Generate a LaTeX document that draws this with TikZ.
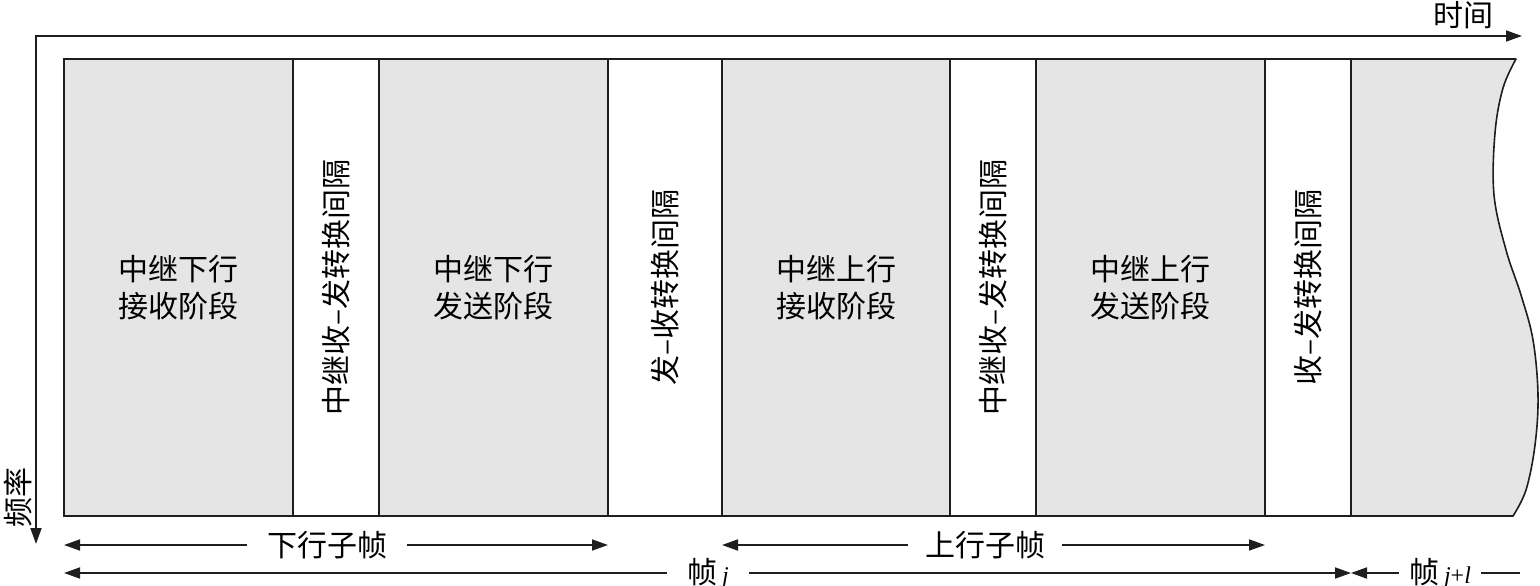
\documentclass[tikz,border=0pt]{standalone}
\usepackage{fontspec}
\setmainfont{Liberation Serif}
\newfontfamily\cjk{Noto Sans CJK SC}
\usetikzlibrary{arrows.meta}
\definecolor{boxgray}{RGB}{229,229,229}
\definecolor{ink}{RGB}{30,30,30}
\begin{document}
\begin{tikzpicture}[x=1pt,y=-1pt,
  seg/.style={draw=ink,line width=1.6pt,minimum height=457pt,inner sep=0pt,outer sep=0pt,anchor=north west,
    align=center,font=\cjk\fontsize{30}{37}\selectfont},
  grayseg/.style={seg,fill=boxgray},
  vlab/.style={rotate=90,inner sep=0pt,font=\cjk\fontsize{30}{37}\selectfont},
  lab/.style={inner xsep=20pt,inner ysep=0pt,font=\cjk\fontsize{30}{37}\selectfont},
  tip/.tip={Triangle[length=16pt,width=11pt]},
  arr/.style={draw=ink,line width=1.8pt,-tip},
  axis/.style={draw=ink,line width=1.8pt,tip-tip}]
\useasboundingbox (0,0) rectangle (1540,586);
% frame columns
\node[grayseg,minimum width=229pt] (c1) at (64,59) {中继下行\\接收阶段};
\node[seg,minimum width=86pt] (c2) at (293,59) {};
\node[grayseg,minimum width=229pt] (c3) at (379,59) {中继下行\\发送阶段};
\node[seg,minimum width=114pt] (c4) at (608,59) {};
\node[grayseg,minimum width=228pt] (c5) at (722,59) {中继上行\\接收阶段};
\node[seg,minimum width=86pt] (c6) at (950,59) {};
\node[grayseg,minimum width=229pt] (c7) at (1036,59) {中继上行\\发送阶段};
\node[seg,minimum width=86pt] (c8) at (1265,59) {};
% partial next frame
\filldraw[fill=boxgray,draw=ink,line width=1.6pt,line join=round]
  (c8.south east) -- (c8.north east) -- (1516,59)
  -- plot[smooth,tension=0.6] coordinates {(1516,59) (1503,88) (1495,133) (1494,195) (1506,250) (1521,295) (1533,340) (1538,395) (1535,445) (1526,490) (1513,516)}
  -- cycle;
% vertical labels
\node[vlab] (v2) at (c2.center) {中继收–发转换间隔};
\node[vlab] (v4) at (c4.center) {发–收转换间隔};
\node[vlab] (v6) at (c6.center) {中继收–发转换间隔};
\node[vlab] (v8) at (c8.center) {收–发转换间隔};
% axes
\coordinate (tend) at (1522,36);
\coordinate (fend) at (36,544);
\draw[axis] (fend) |- (tend);
\node[inner sep=0pt,font=\cjk\fontsize{30}{37}\selectfont] (tl) at (1463,15) {时间};
\node[vlab] (fl) at (18,497) {频率};
% sub-frame arrows
\node[lab] (dl) at (327,545) {下行子帧};
\draw[arr] (dl.west) -- (c1.south west |- dl.west);
\draw[arr] (dl.east) -- (c3.south east |- dl.east);
\node[lab,inner xsep=17pt] (ul) at (985,545) {上行子帧};
\draw[arr] (ul.west) -- (c5.south west |- ul.west);
\draw[arr] (ul.east) -- (c7.south east |- ul.east);
% frame arrows
\node[lab] (fj) at (708,573) {帧\,{\rmfamily\itshape\fontsize{24}{28}\selectfont j}};
\draw[arr] (fj.west) -- (c1.south west |- fj.west);
\draw[arr] (fj.east) -- (c8.south east |- fj.east);
\node[lab,inner xsep=10pt] (fk) at (1440,573) {帧\,{\rmfamily\fontsize{24}{28}\selectfont\textit{j}+\textit{l}}};
\coordinate (fkend) at (1520,573);
\draw[arr] (fk.west) -- (c8.south east |- fk.west);
\draw[draw=ink,line width=1.8pt] (fk.east) -- (fkend);
\end{tikzpicture}
\end{document}
